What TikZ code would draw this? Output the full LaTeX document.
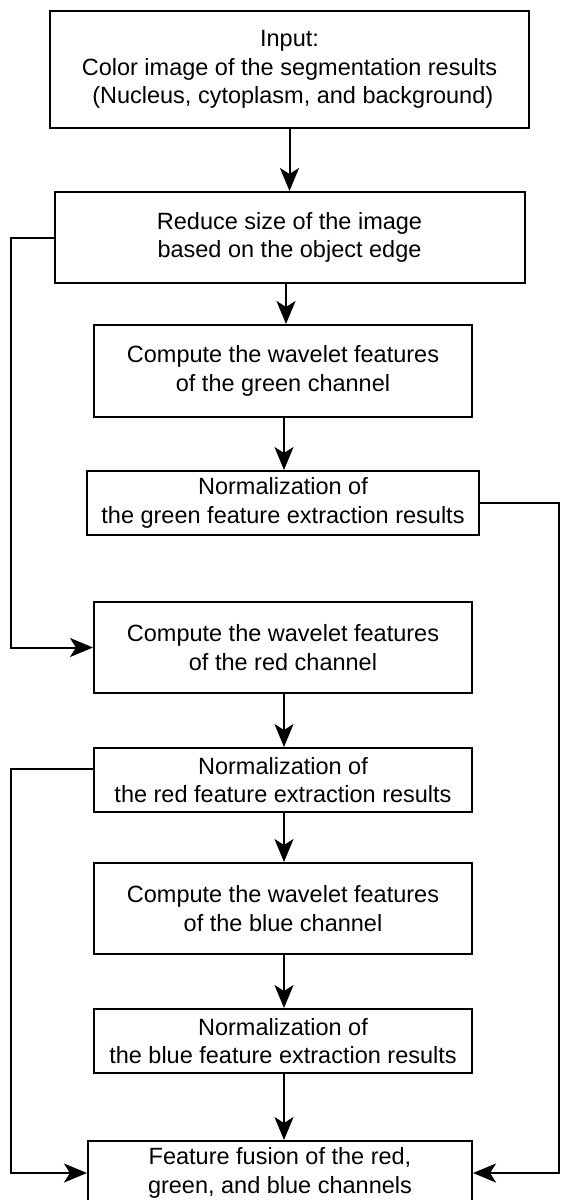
\documentclass[tikz,border=0pt]{standalone}
\usepackage{fontspec}
\setmainfont{Liberation Sans}
\usetikzlibrary{arrows.meta}

\begin{document}
\begin{tikzpicture}[x=1pt, y=-1pt,
  box/.style={draw, line width=2pt, rectangle, inner sep=0pt, align=center,
    font=\fontsize{23.5}{28.5}\selectfont},
  link/.style={line width=2pt},
  arr/.style={link, -{Stealth[length=23pt 0, width=19pt 0, inset=6pt 0]}}]

  \clip (0,0) rectangle (561,1200);
  \fill[white] (0,0) rectangle (561,1200);

  % left and right rails of the bypass connectors
  \coordinate (lx) at (11,0);
  \coordinate (rx) at (559,0);

  % process boxes
  \node[box, minimum width=479pt, minimum height=117pt] (input) at (289.5,69.5)
    {Input:\\Color image of the segmentation results\\\ (Nucleus, cytoplasm, and background)};
  \node[box, minimum width=470pt, minimum height=91pt] (reduce) at (289.5,237.5)
    {Reduce size of the image\\based on the object edge};
  \node[box, minimum width=378pt, minimum height=92pt] (cg) at (283,371)
    {Compute the wavelet features\\of the green channel};
  \node[box, minimum width=392pt, minimum height=64pt] (ng) at (283,503)
    {Normalization of\\the green feature extraction results};
  \node[box, minimum width=378pt, minimum height=91pt] (cr) at (283,647.5)
    {Compute the wavelet features\\of the red channel};
  \node[box, minimum width=378pt, minimum height=64pt] (nr) at (283,780)
    {Normalization of\\the red feature extraction results};
  \node[box, minimum width=378pt, minimum height=91pt] (cb) at (283,908.5)
    {Compute the wavelet features\\of the blue channel};
  \node[box, minimum width=378pt, minimum height=64pt] (nb) at (283,1041)
    {Normalization of\\the blue feature extraction results};
  \node[box, minimum width=384pt, minimum height=64pt] (fu) at (280,1173)
    {Feature fusion of the red,\\green, and blue channels};

  % main flow
  \draw[arr] (input.south) -- (input.south |- reduce.north);
  \draw[arr] (reduce.south -| 286,0) -- (cg.north -| 286,0);
  \draw[arr] (cg.south -| 284,0) -- (ng.north -| 284,0);
  \draw[arr] (cr.south -| 284,0) -- (nr.north -| 284,0);
  \draw[arr] (nr.south -| 284,0) -- (cb.north -| 284,0);
  \draw[arr] (cb.south -| 284,0) -- (nb.north -| 284,0);
  \draw[arr] (nb.south -| 284,0) -- (fu.north -| 284,0);

  % bypass connectors
  \draw[arr] (reduce.west) -- (reduce.west -| lx) |- (cr.west);
  \draw[arr] (nr.west |- 0,769) -- (lx |- 0,769) |- (fu.west);
  \draw[arr] (ng.east) -- (ng.east -| rx) |- (fu.east);
\end{tikzpicture}
\end{document}
